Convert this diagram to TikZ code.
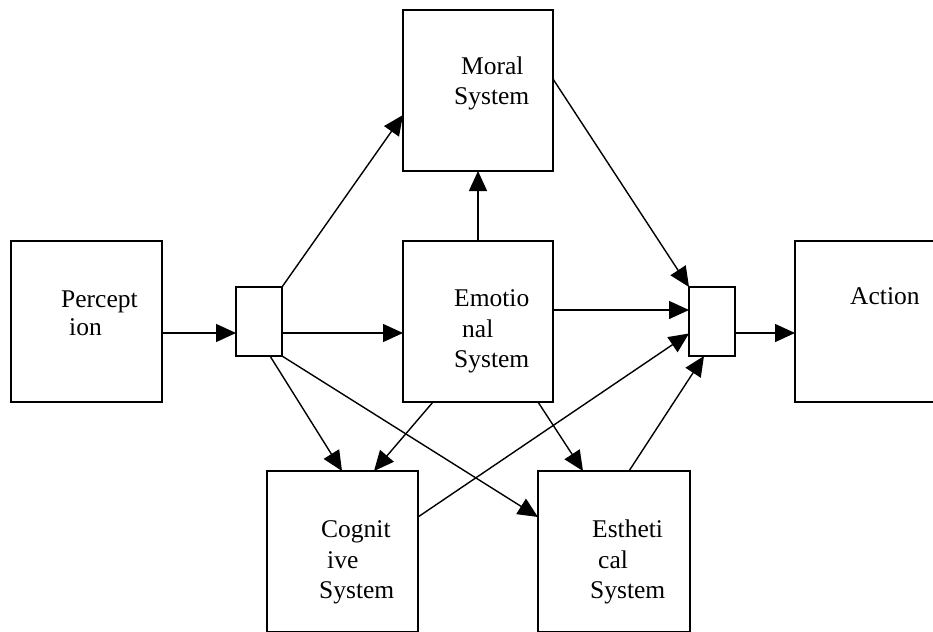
\documentclass[tikz,border=0pt]{standalone}
\usepackage{fontspec}
\setmainfont{Liberation Serif}
\usetikzlibrary{calc,arrows.meta}
\tikzset{
  box/.style={draw, line width=1.8pt, minimum width=#1, inner sep=0pt, outer sep=0pt},
  lbl/.style={anchor=base west, inner sep=0pt, font=\rmfamily\fontsize{25.5}{30}\selectfont},
  arr/.style={line width=1.4pt, -{Triangle[length=20pt,width=18pt]}},
  ln/.style={line width=1.4pt}
}
\begin{document}
\begin{tikzpicture}[x=1pt,y=-1pt]
\clip (0,0) rectangle (933,631);
% boxes
\node[box=151pt, minimum height=161pt] (perc) at (86.5,321.5) {};
\node[box=46pt, minimum height=69pt] (lbox) at (259,321.5) {};
\node[box=150pt, minimum height=161pt] (moral) at (478,90.5) {};
\node[box=150pt, minimum height=161pt] (emo) at (478,321.5) {};
\node[box=46pt, minimum height=69pt] (rbox) at (712,321.5) {};
\node[box=151pt, minimum height=161pt] (action) at (870.5,321.5) {};
\node[box=151pt, minimum height=161pt] (cog) at (342.5,551.5) {};
\node[box=152pt, minimum height=161pt] (est) at (614,551.5) {};
% labels
\node[lbl] (t1) at (61,307) {Percept};
\node[lbl] (t2) at (69,335) {ion};
\node[lbl] (t3) at (461,75) {Moral};
\node[lbl] (t4) at (454,105) {System};
\node[lbl] (t5) at (454,306) {Emotio};
\node[lbl] (t6) at (462,337) {nal};
\node[lbl] (t7) at (454,367) {System};
\node[lbl] (t8) at (850,304) {Action};
\node[lbl] (t9) at (321,537) {Cognit};
\node[lbl] (t10) at (327,568) {ive};
\node[lbl] (t11) at (319,598) {System};
\node[lbl] (t12) at (592,537) {Estheti};
\node[lbl] (t13) at (598,568) {cal};
\node[lbl] (t14) at (590,598) {System};
% connectors
\coordinate (p1) at ($(perc.east)+(0,11.5)$);
\draw[arr] (p1) -- (p1 -| lbox.west);
\draw[arr] (lbox.north east) -- ($(moral.north west)+(0,105)$);
\coordinate (p2) at ($(lbox.east)+(0,11.5)$);
\draw[arr] (p2) -- (p2 -| emo.west);
\draw[arr] ($(lbox.south west)+(34,0)$) -- ($(cog.north west)+(75,0)$);
\draw[arr] (lbox.south east) -- ($(est.north west)+(0,46)$);
\draw[arr] (emo.north) -- (moral.south);
\draw[arr] ($(moral.north east)+(0,69)$) -- (rbox.north west);
\coordinate (p3) at ($(emo.east)+(0,-11.5)$);
\draw[arr] (p3) -- (p3 -| rbox.west);
\draw[arr] ($(cog.north east)+(0,46)$) -- ($(rbox.west)+(0,12)$);
\draw[arr] ($(est.north west)+(91,0)$) -- ($(rbox.south west)+(15,0)$);
\draw[arr] ($(emo.south west)+(30,0)$) -- ($(cog.north west)+(107,0)$);
\draw[arr] ($(emo.south west)+(135,0)$) -- ($(est.north west)+(45,0)$);
\coordinate (p4) at ($(rbox.east)+(0,11.5)$);
\draw[arr] (p4) -- (p4 -| action.west);
\end{tikzpicture}
\end{document}
